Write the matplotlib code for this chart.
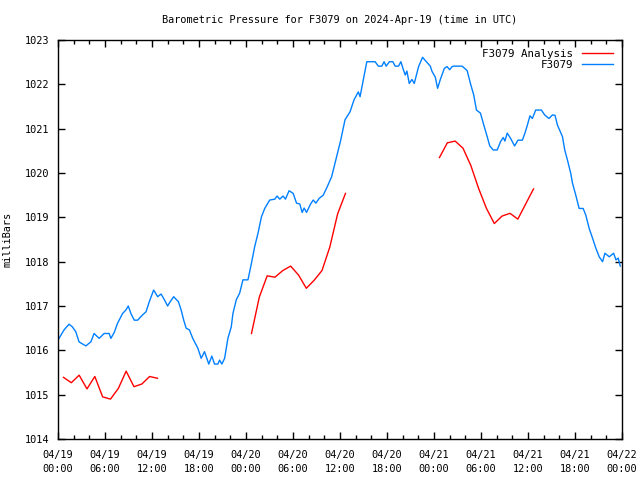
import matplotlib
matplotlib.use("Agg")
import matplotlib.pyplot as plt
from matplotlib.ticker import MultipleLocator

#hours since 2024-04-19 00:00 UTC
obs_hours = [0.13, 0.77, 1.41, 1.83, 2.27, 2.69, 3.55, 4.19, 4.61, 5.25, 5.89, 6.53, 6.75, 7.17,
             7.60, 8.24, 8.67, 8.97, 9.31, 9.74, 10.16, 10.80, 11.24, 11.66, 12.21, 12.72, 13.16,
             13.49, 14.0, 14.22, 14.77, 15.08, 15.37, 15.72, 16.05, 16.36, 16.78, 17.20, 17.85,
             18.28, 18.70, 19.25, 19.64, 19.98, 20.41, 20.63, 20.92, 21.27, 21.69, 22.12, 22.33,
             22.76, 23.19, 23.61, 24.25, 24.69, 25.11, 25.53, 25.97, 26.39, 27.03, 27.67, 27.97,
             28.31, 28.73, 29.04, 29.50, 30.02, 30.45, 30.87, 31.17, 31.42, 31.73, 32.24, 32.58,
             32.92, 33.35, 33.86, 34.37, 34.94, 35.36, 35.78, 36.09, 36.64, 37.28, 37.79, 38.34,
             38.56, 38.98, 39.42, 40.48, 40.90, 41.34, 41.63, 41.89, 42.31, 42.75, 43.04, 43.47,
             43.77, 44.11, 44.33, 44.54, 44.84, 45.18, 45.48, 46.03, 46.54, 47.02, 47.53, 47.75,
             48.17, 48.46, 48.81, 49.32, 49.67, 50.00, 50.31, 50.51, 51.59, 52.23, 52.65, 53.07,
             53.42, 53.93, 54.36, 54.79, 55.12, 55.56, 56.07, 56.50, 56.84, 57.05, 57.35, 57.78,
             58.29, 58.71, 59.28, 59.61, 59.92, 60.25, 60.56, 60.98, 61.71, 62.13, 62.68, 63.12,
             63.45, 63.76, 64.40, 64.69, 65.04, 65.46, 65.68, 66.10, 66.53, 67.04, 67.38, 67.81,
             68.24, 68.67, 69.09, 69.52, 69.82, 70.37, 70.93, 71.23, 71.52, 71.78]
obs_mb = [1016.27, 1016.46, 1016.59, 1016.53, 1016.42, 1016.19, 1016.10, 1016.19, 1016.38, 1016.27,
          1016.38, 1016.38, 1016.27, 1016.40, 1016.61, 1016.83, 1016.91, 1017.00, 1016.83, 1016.68,
          1016.68, 1016.80, 1016.87, 1017.10, 1017.36, 1017.21, 1017.27, 1017.17, 1017.00, 1017.07,
          1017.21, 1017.15, 1017.10, 1016.91, 1016.68, 1016.50, 1016.46, 1016.27, 1016.05, 1015.82,
          1015.97, 1015.69, 1015.87, 1015.69, 1015.69, 1015.78, 1015.69, 1015.82, 1016.27, 1016.53,
          1016.83, 1017.14, 1017.29, 1017.59, 1017.59, 1017.96, 1018.34, 1018.64, 1019.01, 1019.20,
          1019.39, 1019.41, 1019.48, 1019.41, 1019.48, 1019.41, 1019.60, 1019.54, 1019.32, 1019.30,
          1019.11, 1019.21, 1019.11, 1019.30, 1019.39, 1019.32, 1019.43, 1019.50, 1019.69, 1019.92,
          1020.22, 1020.52, 1020.74, 1021.20, 1021.38, 1021.65, 1021.83, 1021.72, 1022.10, 1022.51,
          1022.51, 1022.41, 1022.41, 1022.51, 1022.41, 1022.51, 1022.51, 1022.41, 1022.41, 1022.51,
          1022.32, 1022.21, 1022.30, 1022.02, 1022.11, 1022.02, 1022.40, 1022.61, 1022.51, 1022.41,
          1022.29, 1022.16, 1021.91, 1022.11, 1022.36, 1022.40, 1022.33, 1022.40, 1022.41, 1022.41,
          1022.31, 1022.02, 1021.76, 1021.42, 1021.35, 1021.08, 1020.82, 1020.61, 1020.52, 1020.52,
          1020.71, 1020.80, 1020.72, 1020.90, 1020.78, 1020.61, 1020.74, 1020.74, 1020.90, 1021.08,
          1021.29, 1021.23, 1021.42, 1021.42, 1021.31, 1021.23, 1021.31, 1021.30, 1021.08, 1020.82,
          1020.52, 1020.29, 1019.99, 1019.77, 1019.50, 1019.20, 1019.20, 1019.05, 1018.75, 1018.53,
          1018.30, 1018.11, 1018.00, 1018.19, 1018.11, 1018.19, 1018.04, 1018.08, 1017.90]

#analysis runs (three separate segments, hourly)
ana1_hours = [0.7, 1.7, 2.7, 3.7, 4.7, 5.7, 6.7, 7.7, 8.7, 9.7, 10.7, 11.7, 12.7]
ana1_mb = [1015.39, 1015.27, 1015.44, 1015.13, 1015.41, 1014.95, 1014.90, 1015.14, 1015.53,
           1015.18, 1015.24, 1015.41, 1015.37]
ana2_hours = [24.7, 25.7, 26.7, 27.7, 28.7, 29.7, 30.7, 31.7, 32.7, 33.7, 34.7, 35.7, 36.7]
ana2_mb = [1016.38, 1017.20, 1017.68, 1017.65, 1017.80, 1017.90, 1017.70, 1017.40, 1017.58,
           1017.80, 1018.33, 1019.08, 1019.54]
ana3_hours = [48.7, 49.7, 50.7, 51.7, 52.7, 53.7, 54.7, 55.7, 56.7, 57.7, 58.7, 59.7, 60.7]
ana3_mb = [1020.35, 1020.68, 1020.72, 1020.56, 1020.17, 1019.65, 1019.20, 1018.86, 1019.03,
           1019.09, 1018.96, 1019.30, 1019.64]

tick_hours = list(range(0, 73, 6))
tick_labels = ["04/19\n00:00", "04/19\n06:00", "04/19\n12:00", "04/19\n18:00",
               "04/20\n00:00", "04/20\n06:00", "04/20\n12:00", "04/20\n18:00",
               "04/21\n00:00", "04/21\n06:00", "04/21\n12:00", "04/21\n18:00",
               "04/22\n00:00"]

plt.rcParams['font.family'] = 'DejaVu Sans Mono'
plt.rcParams['font.size'] = 7.4

fig = plt.figure(figsize=(6.4, 4.8), dpi=100)
ax = fig.add_axes([58/640, 41/480, 564/640, 399/480])

red = "#ff0000"
blue = "#0080ff"
ax.plot(ana1_hours, ana1_mb, color=red, lw=1.0, label="F3079 Analysis")
ax.plot(ana2_hours, ana2_mb, color=red, lw=1.0)
ax.plot(ana3_hours, ana3_mb, color=red, lw=1.0)
ax.plot(obs_hours, obs_mb, color=blue, lw=1.0, label="F3079")

ax.set_xlim(0, 72)
ax.set_ylim(1014, 1023)
ax.set_xticks(tick_hours)
ax.set_xticklabels(tick_labels, linespacing=1.5)
ax.xaxis.set_minor_locator(MultipleLocator(2))
ax.set_yticks(range(1014, 1024))
ax.tick_params(which='both', direction='in', top=True, right=True, width=1)
ax.tick_params(axis='x', pad=8)
ax.tick_params(axis='y', pad=6)
ax.tick_params(which='major', length=5)
ax.tick_params(which='minor', length=3)
for s in ax.spines.values():
    s.set_linewidth(1)

ax.set_ylabel("milliBars", labelpad=9)
fig.text(340/640, 1 - 20/480, "Barometric Pressure for F3079 on 2024-Apr-19 (time in UTC)",
         ha='center', va='center')

ax.legend(loc='upper right', frameon=False, markerfirst=False, handlelength=2.9,
          borderaxespad=0.8, labelspacing=0.15, handletextpad=0.8, fontsize=7.8,
          borderpad=0.0)

plt.savefig("out.png", dpi=100)
